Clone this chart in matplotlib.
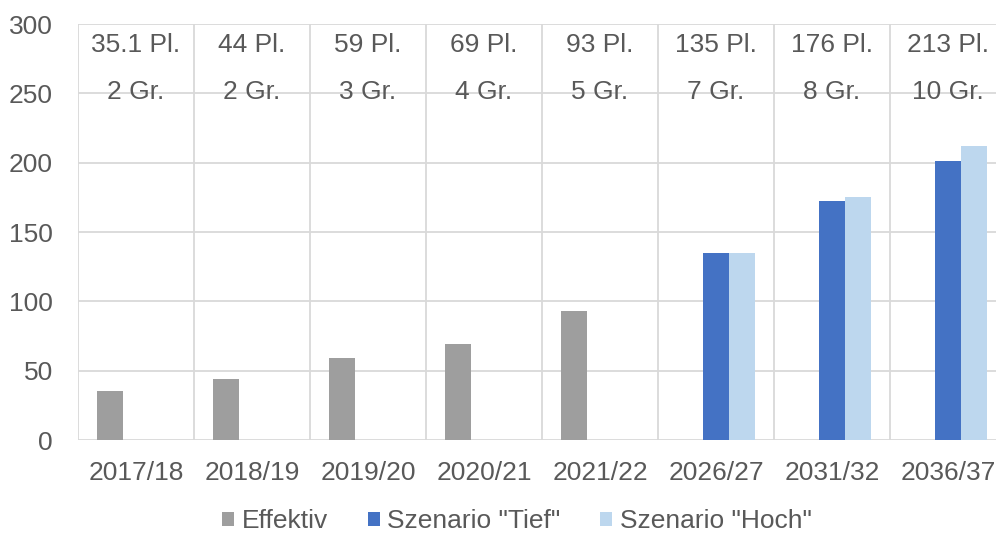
import matplotlib
matplotlib.use("Agg")
import matplotlib.pyplot as plt
import numpy as np

plt.rcParams['font.family'] = ['Liberation Sans', 'DejaVu Sans']

categories = ["2017/18", "2018/19", "2019/20", "2020/21", "2021/22",
              "2026/27", "2031/32", "2036/37"]
effektiv = [35.1, 44, 59, 69, 93, None, None, None]
tief = [None, None, None, None, None, 135, 172, 201]
hoch = [None, None, None, None, None, 135, 175, 212]
plaetze = ["35.1 Pl.", "44 Pl.", "59 Pl.", "69 Pl.", "93 Pl.",
           "135 Pl.", "176 Pl.", "213 Pl."]
gruppen = ["2 Gr.", "2 Gr.", "3 Gr.", "4 Gr.", "5 Gr.",
           "7 Gr.", "8 Gr.", "10 Gr."]
series_names = ["Effektiv", 'Szenario "Tief"', 'Szenario "Hoch"']
yticks = [0, 50, 100, 150, 200, 250, 300]

colors = ["#9E9E9E", "#4472C4", "#BDD7EE"]
text_color = "#595959"
grid_color = "#D9D9D9"
fs = 19

fig = plt.figure(figsize=(9.96, 5.37), dpi=100)
ax = fig.add_axes([78 / 996, 97 / 537, 928 / 996, 416 / 537])

x = np.arange(len(categories))
w = 0.22
offsets = [-0.225, 0.0, 0.225]
for vals, off, col, name in zip([effektiv, tief, hoch], offsets, colors, series_names):
    xs = [xi + off for xi, v in zip(x, vals) if v is not None]
    vs = [v for v in vals if v is not None]
    ax.bar(xs, vs, width=w, color=col, label=name, zorder=3)

for xi, p, g in zip(x, plaetze, gruppen):
    ax.text(xi, 285, p, ha="center", va="center", fontsize=fs, color=text_color, zorder=4)
    ax.text(xi, 251, g, ha="center", va="center", fontsize=fs, color=text_color, zorder=4)

ax.set_xlim(-0.5, len(categories) - 0.5)
ax.set_ylim(0, 300)
ax.set_yticks(yticks)
ax.set_xticks(x)
ax.set_xticklabels(categories)
ax.set_xticks(np.arange(-0.5, len(categories), 1.0), minor=True)

for s in ax.spines.values():
    s.set_visible(False)
ax.tick_params(axis="both", which="both", length=0, labelsize=fs, colors=text_color)
ax.tick_params(axis="y", pad=18)
ax.tick_params(axis="x", pad=15)
ax.grid(axis="y", which="major", color=grid_color, linewidth=1.3, zorder=0)
ax.grid(axis="x", which="minor", color=grid_color, linewidth=1.3, zorder=0)
ax.grid(axis="x", which="major", visible=False)

fig.legend(loc="center", bbox_to_anchor=(517 / 996, 16 / 537), ncol=3, frameon=False,
           fontsize=fs, labelcolor=text_color, handlelength=0.45, handleheight=0.45,
           handletextpad=0.3, columnspacing=1.5)

fig.savefig("out.png", dpi=100)
